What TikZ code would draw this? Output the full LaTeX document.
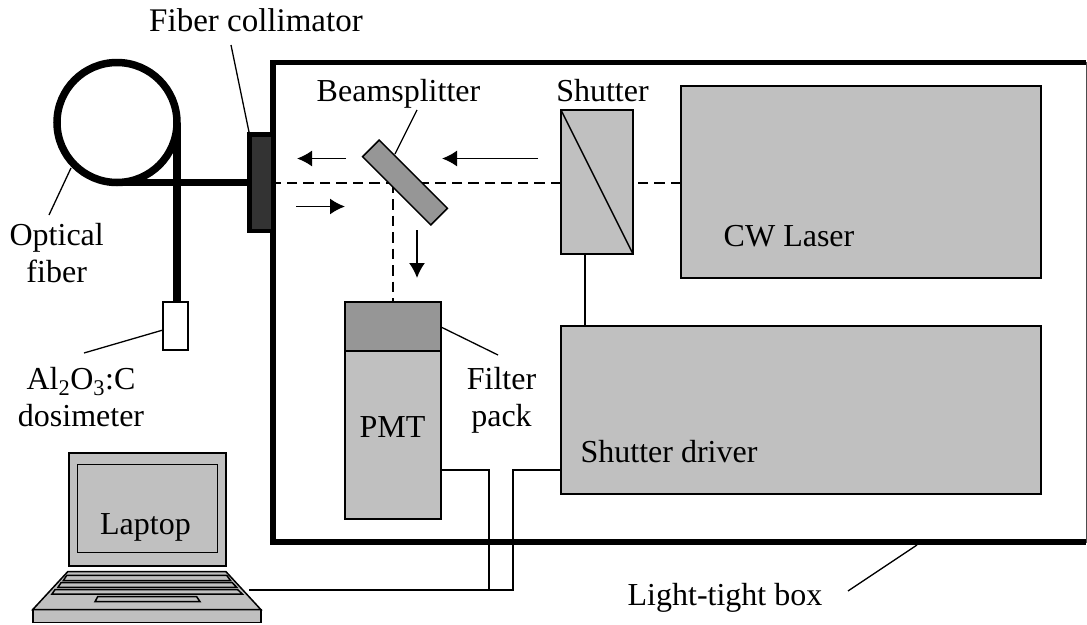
\documentclass[tikz,border=0pt]{standalone}
\usepackage{fontspec}
\setmainfont{Liberation Serif}
\usetikzlibrary{arrows.meta,positioning}
\begin{document}
\begin{tikzpicture}[
  x=1pt, y=-1pt,
  outer sep=0pt,
  part/.style={rectangle, draw, line width=1.5pt, fill=partgray, inner sep=0pt, anchor=north west},
  darkpart/.style={part, fill=filtergray},
  label/.style={font=\fontsize{32}{37}\selectfont, align=center, inner sep=0pt, anchor=base},
  leader/.style={line width=1.3pt},
  fiber/.style={line width=7.5pt},
  beam/.style={line width=2pt, dash pattern=on 10.5pt off 6pt},
  wire/.style={line width=1.5pt},
  arr/.style={-{Latex[length=15pt,width=16pt]}, line width=1.7pt}
]
\definecolor{partgray}{HTML}{C0C0C0}
\definecolor{filtergray}{HTML}{969696}
\definecolor{collgray}{HTML}{333333}
\useasboundingbox (0,0) rectangle (1087,624);

% box and parts
\node[rectangle, draw=black!70, line width=1pt, minimum width=813pt, minimum height=479.5pt, inner sep=0pt, anchor=north west] (ltbox) at (273,62.5) {};
\draw[line width=5.5pt] (ltbox.north east) -- (ltbox.north west) -- (ltbox.south west) -- (ltbox.south east);
\node[part, minimum width=360pt, minimum height=192pt] (laser) at (681,86) {};
\node[part, minimum width=480pt, minimum height=168pt] (driver) at (561,326) {};
\node[part, minimum width=72pt, minimum height=144pt] (shutter) at (561,110) {};
\node[darkpart, minimum width=96pt, minimum height=49pt] (filter) at (345,302) {};
\node[part, minimum width=96pt, minimum height=168pt] (pmt) at (345,351) {};
\node[rectangle, draw, fill=collgray, line width=4.5pt, minimum width=24pt, minimum height=96.5pt, inner sep=0pt, anchor=north west] (coll) at (249.25,134.25) {};
\node[rectangle, draw, fill=white, line width=1.2pt, minimum width=25pt, minimum height=48pt, inner sep=0pt, anchor=north west] (dosim) at (163,302) {};

% beam path
\coordinate (bsc) at (393,182.5);
\coordinate (laserin) at (laser.west |- bsc);
\coordinate (shutl) at (shutter.west |- bsc);
\coordinate (shutr) at (shutter.east |- bsc);
\coordinate (collr) at (coll.east |- bsc);
\draw[beam] (laserin) -- (shutr);
\draw[beam] (shutl) -- (collr);
\draw[beam] (bsc) -- (bsc |- filter.north);
\node[darkpart, anchor=center, rotate=-45, minimum width=96.5pt, minimum height=23.5pt] (split) at (405,182.5) {};
\draw[wire] (shutter.north west) -- (shutter.south east);
\draw[wire] (shutter.south west) ++(24,0) coordinate (shutb) -- (shutb |- driver.north);

% fiber
\coordinate (loop) at (117,122.5);
\coordinate (loopend) at (113,182.5);
\coordinate (fibtop) at (177,122.5);
\draw[fiber] (loop) circle (60);
\draw[fiber] (loopend) -- (loopend -| coll.west);
\draw[fiber] (fibtop) -- (fibtop |- dosim.north);

% light arrows
\coordinate (a1s) at (346,158.5); \coordinate (a1e) at (297,158.5);
\coordinate (a2s) at (538,158.5); \coordinate (a2e) at (442,158.5);
\coordinate (a3s) at (296,206.5); \coordinate (a3e) at (345,206.5);
\coordinate (a4s) at (417,230);   \coordinate (a4e) at (417,278);
\draw[arr] (a1s) -- (a1e);
\draw[arr] (a2s) -- (a2e);
\draw[arr] (a3s) -- (a3e);
\draw[arr] (a4s) -- (a4e);

% laptop
\node[part, minimum width=157pt, minimum height=113pt] (screen) at (69,453) {};
\node[part, minimum width=140pt, minimum height=88pt] (display) at (77.5,464.5) {};
\node[part, minimum width=228pt, minimum height=13pt] (front) at (32.8,609.5) {};
\draw[wire, fill=partgray] (67.7,571.7) -- (226,571.7) -- (front.north east) -- (front.north west) -- cycle;
\draw[wire, fill=partgray] (66.7,575.3) -- (226.7,575.3) -- (230.7,580.7) -- (63.3,580.7) -- cycle;
\draw[wire, fill=partgray] (61,582.7) -- (232.3,582.7) -- (236.7,587.3) -- (58,587.3) -- cycle;
\draw[wire, fill=partgray] (55,589.7) -- (237.7,589.7) -- (242.3,594) -- (52,594) -- cycle;
\draw[wire, fill=partgray] (97.7,596.7) -- (196.7,596.7) -- (200,601.7) -- (95,601.7) -- cycle;

% cables
\coordinate (laptopr) at (249,590);
\coordinate (pmtout) at (441,470);
\coordinate (drvout) at (561,470);
\draw[wire] (pmtout) -- (489,470) -- (489,590);
\draw[wire] (drvout) -- (513,470) -- (513,590) -- (laptopr);

% labels
\node[label, font=\fontsize{33}{37}\selectfont] (tcoll) at (256,31) {Fiber collimator};
\node[label] (tsplit) at (398.5,101.7) {Beamsplitter};
\node[label] (tshut) at (602.5,101.7) {Shutter};
\node[label] (tfiber) at (56.7,282.7) {Optical\\fiber};
\node[label] (tdosim) at (81,426.7) {Al\textsubscript{2}O\textsubscript{3}:C\\dosimeter};
\node[label] (tfilter) at (501.5,426.7) {Filter\\pack};
\node[label] (tlaser) at (789,246) {CW Laser};
\node[label] (tdriver) at (669,462) {Shutter driver};
\node[label] (tpmt) at (392.5,437.7) {PMT};
\node[label] (tlaptop) at (145.5,534) {Laptop};
\node[label] (tbox) at (725,605) {Light-tight box};

% leaders
\draw[leader] (231,45) -- (249,132);
\draw[leader] (71,168) -- (49,215);
\draw[leader] (163,330) -- (84,353);
\draw[leader] (417,110) -- (395,154);
\draw[leader] (441,327) -- (498,355);
\draw[leader] (917,545) -- (848,591);
\end{tikzpicture}
\end{document}
